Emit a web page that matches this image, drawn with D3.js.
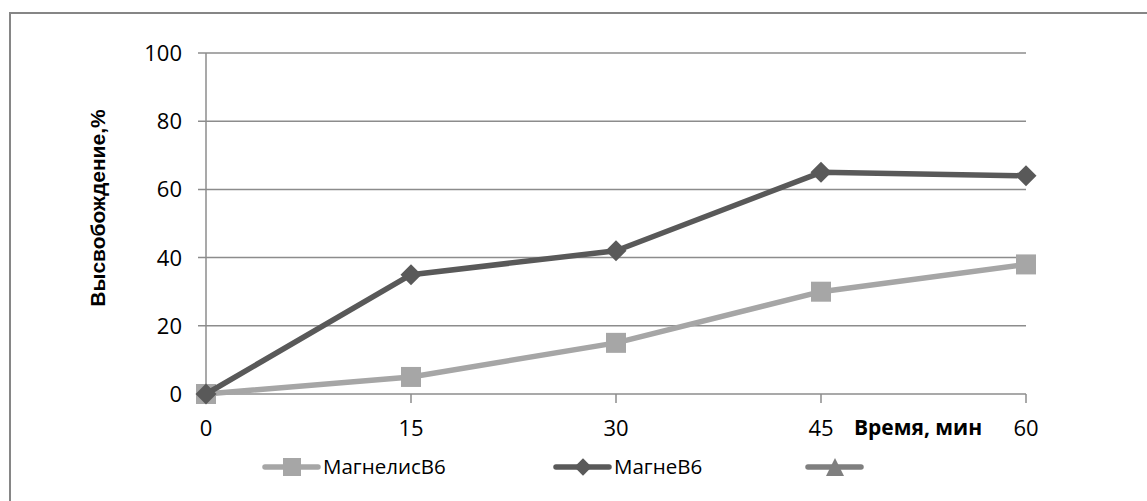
<!DOCTYPE html>
<html><head><meta charset="utf-8">
<script src="https://cdn.jsdelivr.net/npm/d3@7"></script>
<style>body{margin:0;background:#fff}svg{display:block}</style>
</head><body>
<script>
const categories = [0, 15, 30, 45, 60];
const magnelis = [0, 5, 15, 30, 38];
const magne = [0, 35, 42, 65, 64];
const yTicks = [0, 20, 40, 60, 80, 100];
const seriesNames = ["МагнелисВ6", "МагнеВ6", ""];

const W = 1147, H = 501;
const svg = d3.select("body").append("svg").attr("width", W).attr("height", H);
const font = "'Open Sans', sans-serif";

svg.append("rect").attr("x", 10).attr("y", 13).attr("width", 1150).attr("height", 520)
  .attr("fill", "none").attr("stroke", "#868686").attr("stroke-width", 2);

const x = d3.scalePoint().domain(categories).range([206, 1026]);
const y = d3.scaleLinear().domain([0, 100]).range([394, 53]);

// gridlines
svg.append("g").selectAll("line").data(yTicks).join("line")
  .attr("x1", 198).attr("x2", 1026)
  .attr("y1", d => y(d)).attr("y2", d => y(d))
  .attr("stroke", "#8c8c8c").attr("stroke-width", 1.5);
// y axis line
svg.append("line").attr("x1", 206).attr("x2", 206).attr("y1", y(100)).attr("y2", y(0))
  .attr("stroke", "#8c8c8c").attr("stroke-width", 1.5);
// x ticks
svg.append("g").selectAll("line").data(categories).join("line")
  .attr("x1", d => x(d)).attr("x2", d => x(d)).attr("y1", y(0)).attr("y2", y(0) + 9)
  .attr("stroke", "#8c8c8c").attr("stroke-width", 1.5);

// y tick labels
svg.append("g").selectAll("text").data(yTicks).join("text")
  .attr("x", 182).attr("y", d => y(d)).attr("dy", "0.36em")
  .attr("text-anchor", "end").attr("font-family", font).attr("font-size", 22)
  .attr("fill", "#000").text(d => d);
// x tick labels
svg.append("g").selectAll("text").data(categories).join("text")
  .attr("x", d => x(d)).attr("y", 436)
  .attr("text-anchor", "middle").attr("font-family", font).attr("font-size", 22)
  .attr("fill", "#000").text(d => d);

// axis titles
svg.append("text").attr("x", 918).attr("y", 435).attr("text-anchor", "middle")
  .attr("font-family", font).attr("font-size", 21).attr("font-weight", "bold").text("Время, мин");
svg.append("text").attr("transform", "translate(105,208) rotate(-90)").attr("text-anchor", "middle")
  .attr("font-family", "'Liberation Sans', Arial, sans-serif").attr("font-size", 21).attr("font-weight", "bold").text("Высвобождение,%");

const line = d3.line().x((d, i) => x(categories[i])).y(d => y(d));
const c1 = "#a6a6a6", c2 = "#595959", c3 = "#7f7f7f";

svg.append("path").datum(magnelis).attr("d", line).attr("fill", "none")
  .attr("stroke", c1).attr("stroke-width", 5.5).attr("stroke-linejoin", "round");
svg.append("g").selectAll("rect").data(magnelis).join("rect")
  .attr("x", (d, i) => x(categories[i]) - 10).attr("y", d => y(d) - 10)
  .attr("width", 20).attr("height", 20).attr("fill", c1);

svg.append("path").datum(magne).attr("d", line).attr("fill", "none")
  .attr("stroke", c2).attr("stroke-width", 5.5).attr("stroke-linejoin", "round");
const diamond = d3.symbol().type(d3.symbolSquare).size(220);
svg.append("g").selectAll("path").data(magne).join("path")
  .attr("transform", (d, i) => `translate(${x(categories[i])},${y(d)}) rotate(45)`)
  .attr("d", diamond).attr("fill", c2);

// legend
const lg = svg.append("g");
const legendItems = [
  {name: seriesNames[0], x0: 265, color: c1, shape: "square"},
  {name: seriesNames[1], x0: 556, color: c2, shape: "diamond"},
  {name: seriesNames[2], x0: 808, color: c3, shape: "triangle"}
];
const ly = 467;
legendItems.forEach(it => {
  lg.append("line").attr("x1", it.x0).attr("x2", it.x0 + 53).attr("y1", ly).attr("y2", ly)
    .attr("stroke", it.color).attr("stroke-width", 5.5).attr("stroke-linecap", "round");
  const cx = it.x0 + 27;
  if (it.shape === "square") {
    lg.append("rect").attr("x", cx - 9).attr("y", ly - 9).attr("width", 18).attr("height", 18).attr("fill", it.color);
  } else if (it.shape === "diamond") {
    lg.append("path").attr("transform", `translate(${cx},${ly}) rotate(45)`)
      .attr("d", d3.symbol().type(d3.symbolSquare).size(150)()).attr("fill", it.color);
  } else {
    lg.append("path").attr("d", `M${cx},${ly-9}L${cx+9},${ly+9}L${cx-9},${ly+9}Z`).attr("fill", it.color);
  }
  lg.append("text").attr("x", it.x0 + 58).attr("y", ly).attr("dy", "0.36em")
    .attr("font-family", font).attr("font-size", 20.5).text(it.name);
});
</script>
</body></html>
